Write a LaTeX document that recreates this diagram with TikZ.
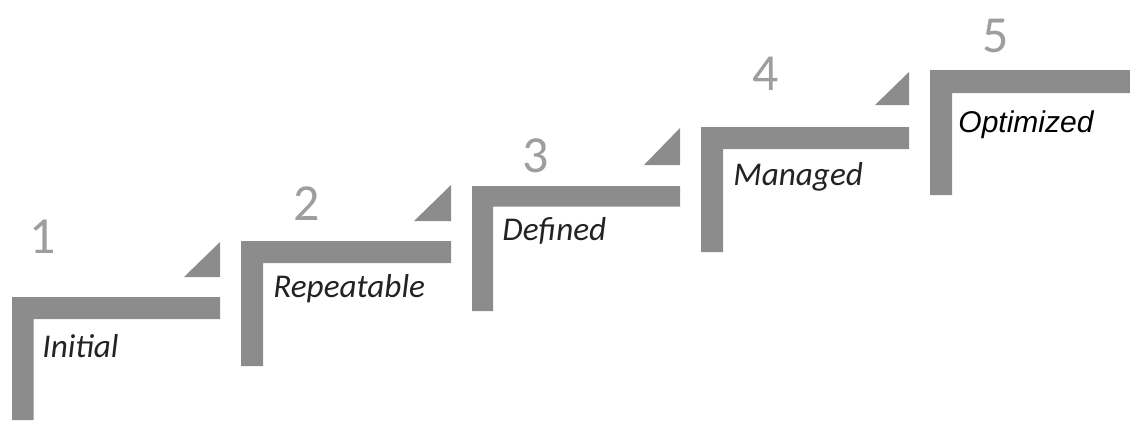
\documentclass[tikz,border=0pt]{standalone}
\usepackage{fontspec}
\setmainfont{Carlito}
\newfontfamily\arialfont{Liberation Sans}
\definecolor{stepgray}{RGB}{140,140,140}
\definecolor{numgray}{RGB}{158,158,158}
\definecolor{lblgray}{RGB}{35,35,35}

\begin{document}
\begin{tikzpicture}[x=0.5pt,y=-0.5pt,
        stepbar/.style={draw=none,fill=stepgray},
        wedge/.style={draw=none,fill=stepgray},
        num/.style={text=numgray,font=\fontsize{26}{26}\selectfont,inner sep=0pt,anchor=base},
        lbl/.style={text=lblgray,font=\fontsize{16.6}{17}\selectfont\itshape,inner sep=0pt,anchor=base west}]
        \useasboundingbox (0,0) rectangle (1130,420);

        % step 1
        \fill[stepbar] (12,297) -- (220,297) -- (220,319) -- (33.5,319) -- (33.5,420) -- (12,420) -- cycle;
        \fill[wedge] (184,277) -- (220,277) -- (220,242) -- cycle;
        \node[num] (n1) at (43,253) {1};
        \node[lbl] (l1) at (42,357) {Initial};

        % step 2
        \fill[stepbar] (241,241) -- (451,241) -- (451,263) -- (263,263) -- (263,366) -- (241,366) -- cycle;
        \fill[wedge] (414,221) -- (451,221) -- (451,185) -- cycle;
        \node[num] (n2) at (307,220) {2};
        \node[lbl] (l2) at (273,297) {Repeatable};

        % step 3
        \fill[stepbar] (472,186) -- (680,186) -- (680,206.5) -- (493,206.5) -- (493,311) -- (472,311) -- cycle;
        \fill[wedge] (644,165) -- (680,165) -- (680,128) -- cycle;
        \node[num] (n3) at (536,172) {3};
        \node[lbl] (l3) at (502,240) {Defined};

        % step 4
        \fill[stepbar] (701,127) -- (909,127) -- (909,149) -- (723,149) -- (723,252) -- (701,252) -- cycle;
        \fill[wedge] (875,105) -- (909,105) -- (909,72) -- cycle;
        \node[num] (n4) at (766,90) {4};
        \node[lbl] (l4) at (733,185) {Managed};

        % step 5
        \fill[stepbar] (930,70) -- (1130,70) -- (1130,93) -- (952,93) -- (952,195) -- (930,195) -- cycle;
        \node[num] (n5) at (996,52) {5};
        \node[lbl,font=\arialfont\fontsize{15}{15}\selectfont\itshape,text=black] (l5) at (958,132) {Optimized};
    \end{tikzpicture}
\end{document}
